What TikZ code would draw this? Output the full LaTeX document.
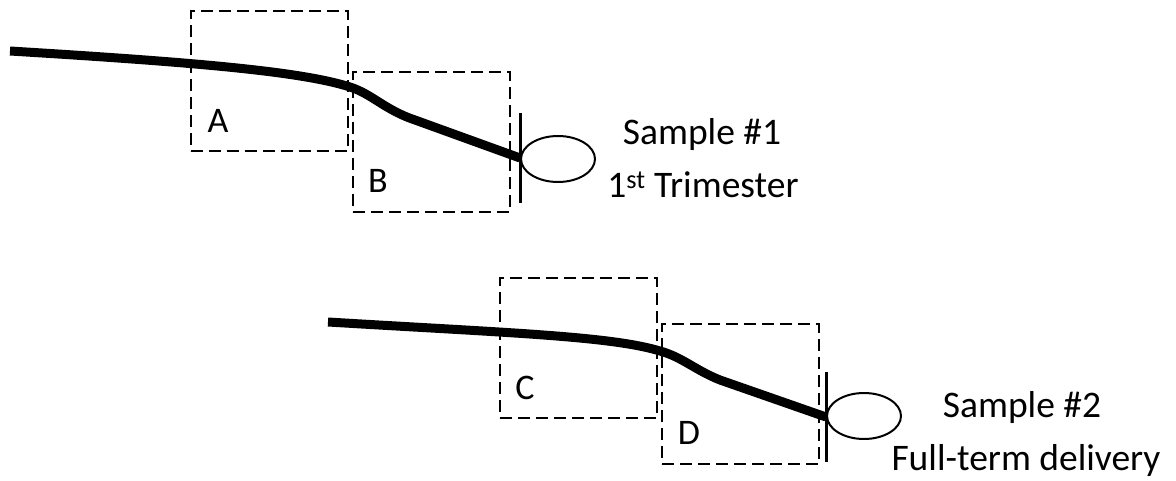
\documentclass[tikz,border=0pt]{standalone}
\usepackage{fontspec}
\setmainfont{Carlito}
\usetikzlibrary{shapes.geometric}
\begin{document}
\begin{tikzpicture}[x=1pt,y=-1pt,
  dbox/.style={draw, line width=2pt, dash pattern=on 12pt off 6pt, minimum width=157pt, minimum height=140pt, inner sep=0pt},
  lbl/.style={inner sep=0pt, font=\fontsize{36}{42}\selectfont},
  txt/.style={inner sep=0pt, anchor=base, font=\fontsize{37.5}{44}\selectfont},
  cord/.style={line width=9pt},
  bulb/.style={ellipse, draw, line width=2pt, minimum width=74pt, minimum height=46pt, inner sep=0pt},
  barline/.style={line width=3pt}]
\useasboundingbox (0,0) rectangle (1176,481);
% group 1
\node[dbox] (A) at (269,81) {};
\node[dbox] (B) at (431.5,142) {};
\node[lbl] (la) at (218,121) {A};
\node[lbl] (lb) at (378,181) {B};
\coordinate (s1) at (10,51);
\coordinate (k1) at (350,87);
\coordinate (m1) at (415,120);
\coordinate (b1) at (520,158);
\draw[cord] (s1) .. controls (190,62) and (300,71) .. (k1) .. controls (372,94) and (385,110) .. (m1) -- (b1);
\draw[barline] ([yshift=45pt]b1) coordinate (bt1) -- ([yshift=-45pt]b1) coordinate (bb1);
\node[bulb] (e1) at (558,159) {};
\node[txt] (t1) at (702,145) {Sample \#1};
\node[txt] (t2) at (703,198) {1\textsuperscript{st} Trimester};
% group 2
\node[dbox] (C) at (578.5,348) {};
\node[dbox] (D) at (740.5,394) {};
\node[lbl] (lc) at (525,388) {C};
\node[lbl] (ld) at (689,433) {D};
\coordinate (s2) at (328,322);
\coordinate (k2) at (660,351);
\coordinate (m2) at (720,380);
\coordinate (b2) at (826,417);
\draw[cord] (s2) .. controls (510,333) and (610,336) .. (k2) .. controls (682,357) and (695,370) .. (m2) -- (b2);
\draw[barline] ([yshift=45pt]b2) coordinate (bt2) -- ([yshift=-45pt]b2) coordinate (bb2);
\node[bulb] (e2) at (864,416) {};
\node[txt] (t3) at (1022,417) {Sample \#2};
\node[txt] (t4) at (1026,470) {Full-term delivery};
\end{tikzpicture}
\end{document}
